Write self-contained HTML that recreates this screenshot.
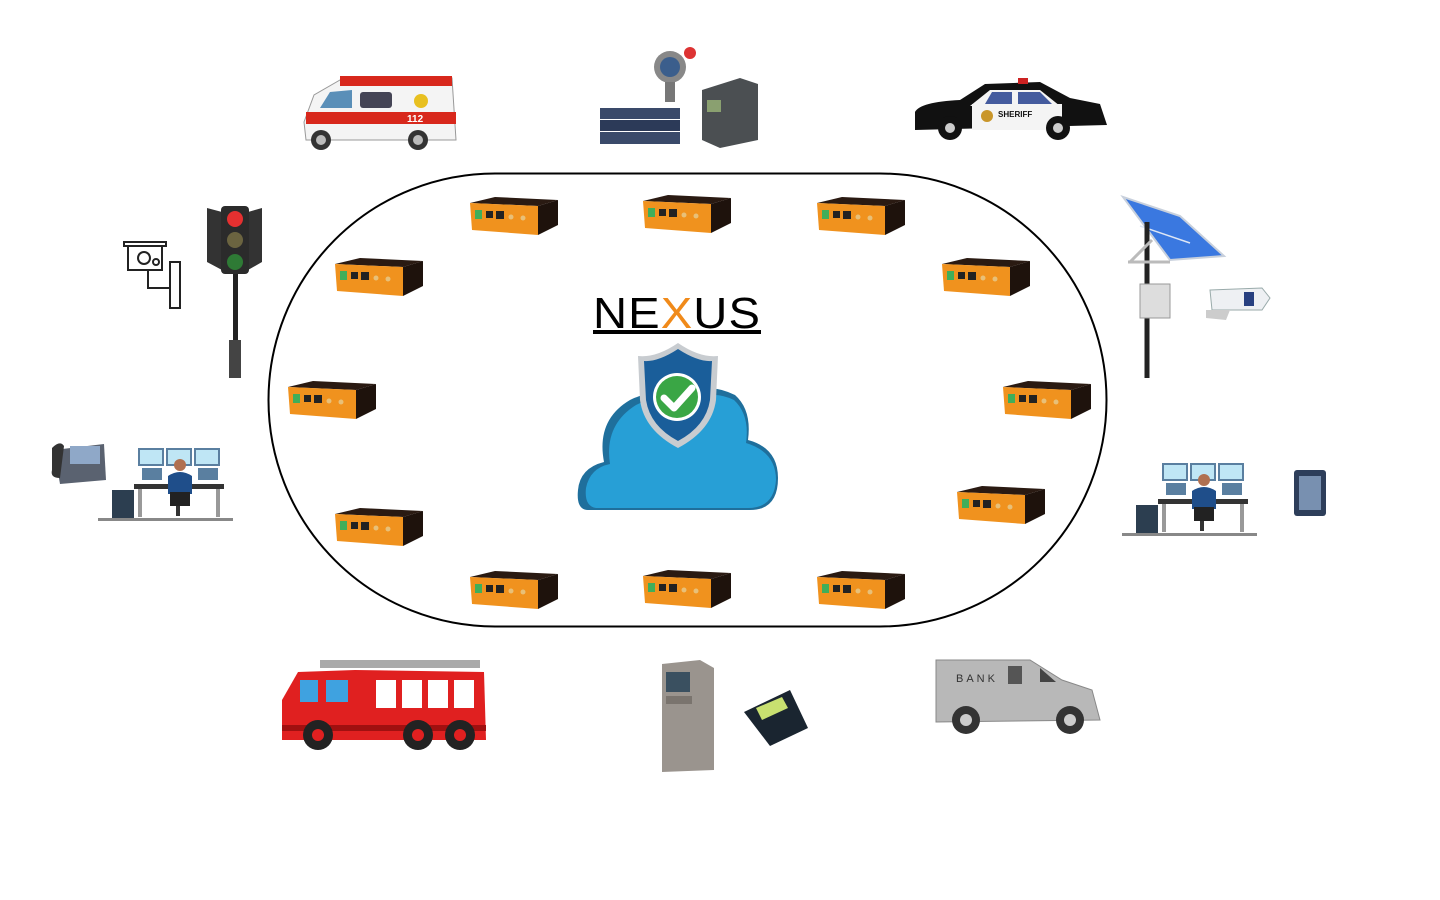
<!DOCTYPE html>
<html><head><meta charset="utf-8"><style>
html,body{margin:0;padding:0;background:#fff;width:1440px;height:900px;overflow:hidden}
svg{display:block}
</style></head><body>
<svg width="1440" height="900" viewBox="0 0 1440 900" xmlns="http://www.w3.org/2000/svg">
<defs>
<g id="r">
  <polygon points="0,6 25,0 88,3 68,9" fill="#2a1a12"/>
  <polygon points="68,9 88,3 88,28 68,38" fill="#1e120c"/>
  <polygon points="0,6 68,9 68,38 2,33" fill="#f0921e"/>
  <rect x="5" y="13" width="7" height="9" fill="#3fae5a"/>
  <rect x="16" y="14" width="7" height="7" fill="#222"/>
  <rect x="26" y="14" width="8" height="8" fill="#222"/>
  <circle cx="41" cy="20" r="2.5" fill="#e8c078"/>
  <circle cx="53" cy="21" r="2.5" fill="#e8c078"/>
</g>
<g id="desk">
  <rect x="40" y="0" width="26" height="18" fill="#5a7fa0"/><rect x="42" y="2" width="22" height="14" fill="#bfe6f5"/>
  <rect x="68" y="0" width="26" height="18" fill="#5a7fa0"/><rect x="70" y="2" width="22" height="14" fill="#bfe6f5"/>
  <rect x="96" y="0" width="26" height="18" fill="#5a7fa0"/><rect x="98" y="2" width="22" height="14" fill="#bfe6f5"/>
  <rect x="44" y="20" width="20" height="12" fill="#5a7fa0"/><rect x="100" y="20" width="20" height="12" fill="#5a7fa0"/>
  <rect x="36" y="36" width="90" height="5" fill="#333"/>
  <rect x="40" y="41" width="4" height="28" fill="#999"/><rect x="118" y="41" width="4" height="28" fill="#999"/>
  <circle cx="82" cy="17" r="6" fill="#b07050"/>
  <path d="M70,28 Q82,20 94,28 L94,46 L70,46Z" fill="#1f4e8a"/>
  <rect x="72" y="44" width="20" height="14" fill="#222"/>
  <rect x="78" y="58" width="4" height="10" fill="#333"/>
  <rect x="14" y="42" width="22" height="28" fill="#2c3e50"/>
  <rect x="0" y="70" width="135" height="3" fill="#888"/>
</g>
</defs>

<rect x="268.5" y="173.5" width="838" height="453" rx="226.5" fill="none" stroke="#000" stroke-width="2"/>

<use href="#r" x="470" y="197"/><use href="#r" x="643" y="195"/><use href="#r" x="817" y="197"/>
<use href="#r" x="942" y="258"/><use href="#r" x="1003" y="381"/><use href="#r" x="957" y="486"/>
<use href="#r" x="817" y="571"/><use href="#r" x="643" y="570"/><use href="#r" x="470" y="571"/>
<use href="#r" x="335" y="508"/><use href="#r" x="288" y="381"/><use href="#r" x="335" y="258"/>

<!-- NEXUS -->
<text x="593" y="328" font-family="Liberation Sans, sans-serif" font-size="44" font-weight="300" letter-spacing="1" fill="#000" textLength="168" lengthAdjust="spacingAndGlyphs">NE<tspan fill="#f08a1a">X</tspan>US</text>
<rect x="593" y="330" width="168" height="4" fill="#000"/>

<!-- cloud -->
<path d="M588,510 Q576,510 578,490 Q580,468 604,462 Q596,420 630,400 Q660,385 690,400 Q705,380 735,395 Q752,410 748,440 Q778,448 778,478 Q778,510 750,510 Z" fill="#1f6f9c"/>
<path d="M596,508 Q584,506 586,488 Q590,468 610,464 Q604,425 636,405 Q664,390 692,405 Q708,388 734,400 Q750,415 746,443 Q776,452 776,480 Q774,508 748,508 Z" fill="#279fd6"/>
<!-- shield -->
<path d="M678,343 Q700,358 718,356 L716,400 Q712,430 678,448 Q644,430 640,400 L638,356 Q656,358 678,343Z" fill="#c8ccd0"/>
<path d="M678,349 Q698,362 712,361 L710,400 Q706,426 678,441 Q650,426 646,400 L644,361 Q658,362 678,349Z" fill="#1a5e9a"/>
<circle cx="677" cy="397" r="24" fill="#fff"/><circle cx="677" cy="397" r="21" fill="#3aa645"/>
<path d="M664,398 L674,408 L692,388" stroke="#fff" stroke-width="7" fill="none" stroke-linecap="round" stroke-linejoin="round"/>

<!-- ambulance -->
<path d="M304,122 L314,95 L340,80 L452,78 L456,140 L306,140Z" fill="#f4f4f4" stroke="#999"/>
<rect x="340" y="76" width="112" height="10" fill="#d8281c"/>
<rect x="306" y="112" width="150" height="12" fill="#d8281c"/>
<rect x="360" y="92" width="32" height="16" rx="3" fill="#445"/>
<path d="M320,108 L330,92 L352,90 L352,108Z" fill="#5a8fb8"/>
<circle cx="421" cy="101" r="7" fill="#e8c020"/>
<text x="407" y="122" font-family="Liberation Sans, sans-serif" font-size="10" font-weight="bold" fill="#fff">112</text>
<circle cx="321" cy="140" r="10" fill="#333"/><circle cx="321" cy="140" r="5" fill="#bbb"/>
<circle cx="418" cy="140" r="10" fill="#333"/><circle cx="418" cy="140" r="5" fill="#bbb"/>

<!-- gas sensor/servers -->
<rect x="600" y="108" width="80" height="11" fill="#3a4a6a"/><rect x="600" y="120" width="80" height="11" fill="#2c3a58"/><rect x="600" y="132" width="80" height="12" fill="#3a4a6a"/>
<circle cx="670" cy="67" r="16" fill="#888"/><circle cx="670" cy="67" r="10" fill="#3b5e8c"/>
<rect x="665" y="82" width="10" height="20" fill="#777"/><circle cx="690" cy="53" r="6" fill="#d33"/>
<path d="M702,90 L740,78 L758,84 L758,140 L720,148 L702,140Z" fill="#4b4f52"/>
<rect x="707" y="100" width="14" height="12" fill="#8aa070"/>

<!-- police car -->
<path d="M915,112 Q920,102 960,100 L985,84 L1040,82 L1070,98 L1100,104 L1107,125 L915,130Z" fill="#111"/>
<path d="M970,106 L990,90 L1040,90 L1060,106Z" fill="#f4f4f4"/>
<rect x="972" y="104" width="90" height="26" fill="#f4f4f4"/>
<path d="M992,92 L1012,92 L1012,104 L985,104Z" fill="#445b9e"/><path d="M1018,92 L1040,92 L1052,104 L1018,104Z" fill="#445b9e"/>
<text x="998" y="117" font-family="Liberation Sans, sans-serif" font-size="8" font-weight="bold" fill="#111">SHERIFF</text>
<circle cx="987" cy="116" r="6" fill="#c9962a"/><rect x="1018" y="78" width="10" height="6" fill="#c22"/>
<circle cx="950" cy="128" r="12" fill="#111"/><circle cx="950" cy="128" r="5" fill="#ccc"/>
<circle cx="1058" cy="128" r="12" fill="#111"/><circle cx="1058" cy="128" r="5" fill="#ccc"/>

<!-- camera & traffic light -->
<g fill="none" stroke="#222" stroke-width="2">
<rect x="124" y="242" width="42" height="4"/><path d="M128,246 L128,270 L162,270 L162,246"/>
<circle cx="144" cy="258" r="6"/><circle cx="156" cy="262" r="3"/>
<path d="M148,270 L148,288 L170,288"/><rect x="170" y="262" width="10" height="46"/>
</g>
<rect x="233" y="270" width="5" height="80" fill="#222"/><rect x="229" y="340" width="12" height="38" fill="#444"/>
<path d="M207,208 L222,212 L222,270 L207,262Z M262,208 L248,212 L248,270 L262,262Z" fill="#333"/>
<rect x="221" y="206" width="28" height="68" rx="4" fill="#2b2b2b"/>
<circle cx="235" cy="219" r="8" fill="#e53030"/><circle cx="235" cy="240" r="8" fill="#6b6440"/><circle cx="235" cy="262" r="8" fill="#2e7a35"/>

<!-- phone + operator left -->
<path d="M54,450 L104,444 L106,480 L60,484Z" fill="#5a6270"/><rect x="70" y="446" width="30" height="18" fill="#8fa8c8"/>
<path d="M52,448 Q60,440 64,446 L60,478 Q50,478 52,470Z" fill="#333"/>
<use href="#desk" x="98" y="448"/>

<!-- solar camera right -->
<polygon points="1123,197 1180,216 1224,256 1170,260" fill="#3a78e0" stroke="#c8d0dc" stroke-width="2"/>
<line x1="1140" y1="226" x2="1190" y2="243" stroke="#dde6f5" stroke-width="1.5"/>
<line x1="1147" y1="222" x2="1147" y2="378" stroke="#222" stroke-width="5"/>
<path d="M1130,262 L1152,240 M1128,262 L1170,262" stroke="#bbb" stroke-width="3"/>
<rect x="1140" y="284" width="30" height="34" fill="#ddd" stroke="#999"/>
<path d="M1210,290 L1262,288 L1270,298 L1262,310 L1212,310Z" fill="#eef0f3" stroke="#9aa"/>
<rect x="1244" y="292" width="10" height="14" fill="#284080"/>
<path d="M1206,310 L1230,310 L1226,320 L1206,318Z" fill="#ccc"/>

<!-- operator right + keypad -->
<use href="#desk" x="1122" y="463"/>
<rect x="1294" y="470" width="32" height="46" rx="3" fill="#2d3e5a"/><rect x="1299" y="476" width="22" height="34" fill="#7890b0"/>

<!-- fire truck -->
<rect x="320" y="660" width="160" height="8" fill="#aaa"/>
<path d="M282,740 L282,700 L298,672 L355,670 L484,672 L486,740Z" fill="#e02020"/>
<rect x="300" y="680" width="18" height="22" fill="#3fa2e0"/><rect x="326" y="680" width="22" height="22" fill="#3fa2e0"/>
<rect x="376" y="680" width="20" height="28" fill="#fff"/><rect x="402" y="680" width="20" height="28" fill="#fff"/><rect x="428" y="680" width="20" height="28" fill="#fff"/><rect x="454" y="680" width="20" height="28" fill="#fff"/>
<rect x="282" y="725" width="204" height="6" fill="#a01010"/>
<circle cx="318" cy="735" r="15" fill="#222"/><circle cx="318" cy="735" r="6" fill="#e02020"/>
<circle cx="418" cy="735" r="15" fill="#222"/><circle cx="418" cy="735" r="6" fill="#e02020"/>
<circle cx="460" cy="735" r="15" fill="#222"/><circle cx="460" cy="735" r="6" fill="#e02020"/>

<!-- ATM + card terminal -->
<path d="M662,664 L700,660 L714,668 L714,770 L662,772Z" fill="#9a948e"/>
<rect x="666" y="672" width="24" height="20" fill="#3a5060"/><rect x="666" y="696" width="26" height="8" fill="#7a746e"/>
<path d="M744,712 L790,690 L808,728 L770,746Z" fill="#1a2530"/><path d="M756,708 L782,697 L788,708 L762,720Z" fill="#c8e070"/>

<!-- bank truck -->
<path d="M936,660 L1030,660 L1062,680 L1092,690 L1100,720 L936,722Z" fill="#b8b8b8" stroke="#888"/>
<text x="956" y="682" font-family="Liberation Sans, sans-serif" font-size="11" letter-spacing="3" fill="#333">BANK</text>
<rect x="1008" y="666" width="14" height="18" fill="#555"/><path d="M1040,668 L1056,682 L1040,682Z" fill="#444"/>
<circle cx="966" cy="720" r="14" fill="#333"/><circle cx="966" cy="720" r="6" fill="#ccc"/>
<circle cx="1070" cy="720" r="14" fill="#333"/><circle cx="1070" cy="720" r="6" fill="#ccc"/>
</svg>
</body></html>
